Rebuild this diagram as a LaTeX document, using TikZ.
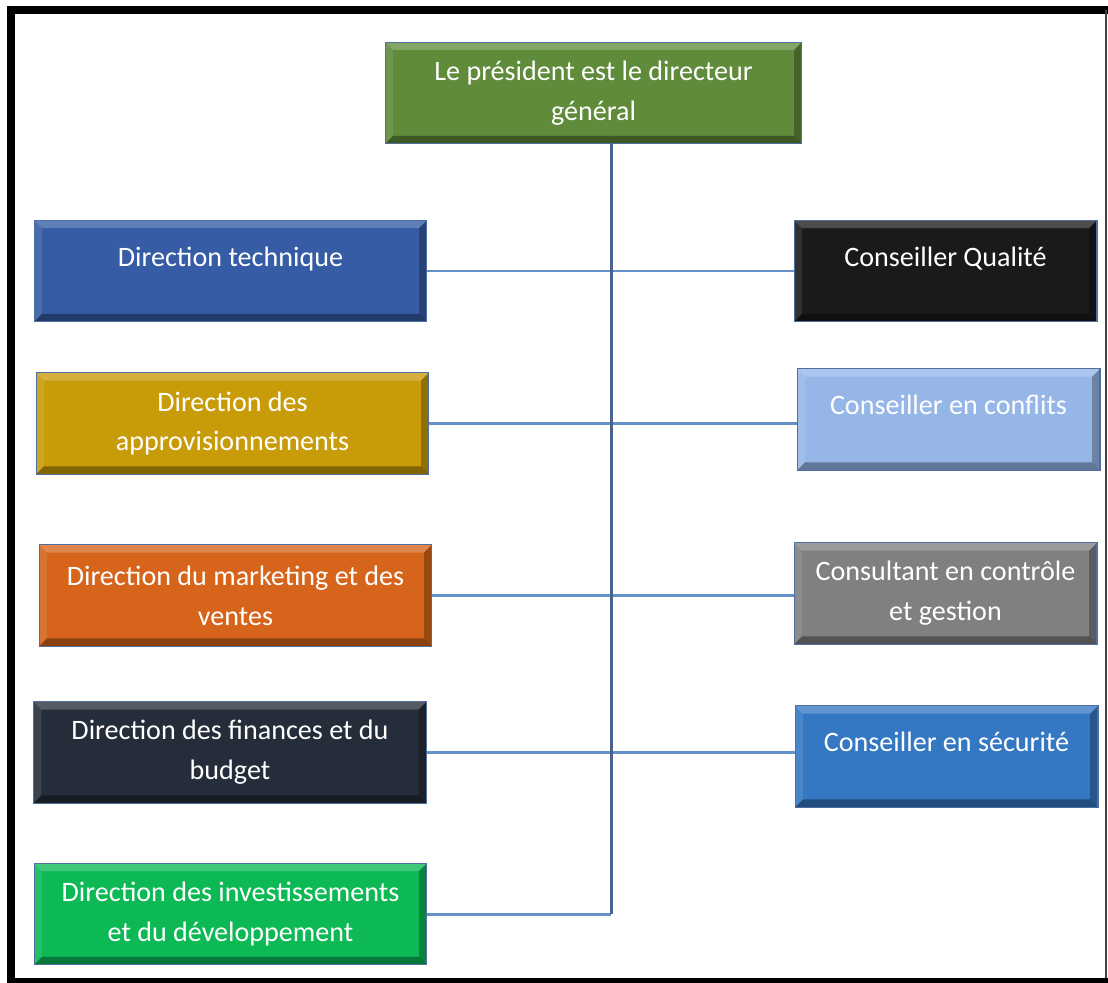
\documentclass[tikz,border=0pt]{standalone}
\usepackage{fontspec}
\setmainfont{Carlito}
\usepackage{tikz}
\usetikzlibrary{calc}
\usetikzlibrary{positioning}

\definecolor{presgreen}{RGB}{95,139,58}
\definecolor{techblue}{RGB}{53,92,164}
\definecolor{approgold}{RGB}{200,155,8}
\definecolor{markorange}{RGB}{214,100,26}
\definecolor{findark}{RGB}{38,45,58}
\definecolor{invgreen}{RGB}{12,185,85}
\definecolor{qualblack}{RGB}{26,26,26}
\definecolor{conflblue}{RGB}{151,182,232}
\definecolor{consgray}{RGB}{128,128,128}
\definecolor{secublue}{RGB}{52,120,195}
\definecolor{boxline}{RGB}{79,111,159}
\definecolor{linkblue}{RGB}{100,145,200}
\definecolor{trunkblue}{RGB}{72,100,140}

\begin{document}
\begin{tikzpicture}[
x=0.02cm,y=-0.02cm,
orgbox/.style={draw=boxline,line width=.6pt,text=white,align=center,
  minimum height=2.03cm,inner sep=2pt,
  font=\fontsize{16}{22.7}\selectfont,
  path picture={
    \fill[white,opacity=.22] (path picture bounding box.north west) -- (path picture bounding box.north east)
      -- ([xshift=-4.5pt,yshift=-4.5pt]path picture bounding box.north east) -- ([xshift=4.5pt,yshift=-4.5pt]path picture bounding box.north west) -- cycle;
    \fill[white,opacity=.10] (path picture bounding box.north west) -- ([xshift=4.5pt,yshift=-4.5pt]path picture bounding box.north west)
      -- ([xshift=4.5pt,yshift=4.5pt]path picture bounding box.south west) -- (path picture bounding box.south west) -- cycle;
    \fill[black,opacity=.35] (path picture bounding box.south west) -- (path picture bounding box.south east)
      -- ([xshift=-4.5pt,yshift=4.5pt]path picture bounding box.south east) -- ([xshift=4.5pt,yshift=4.5pt]path picture bounding box.south west) -- cycle;
    \fill[black,opacity=.28] (path picture bounding box.north east) -- ([xshift=-4.5pt,yshift=-4.5pt]path picture bounding box.north east)
      -- ([xshift=-4.5pt,yshift=4.5pt]path picture bounding box.south east) -- (path picture bounding box.south east) -- cycle;
  }},
leftbox/.style={orgbox,minimum width=7.86cm},
rightbox/.style={orgbox,minimum width=6.06cm},
link/.style={draw=linkblue,line width=1.7pt},
trunk/.style={draw=trunkblue,line width=1.7pt},
]
\useasboundingbox (0,0) rectangle (1108,983);
\fill[white] (0,0) rectangle (1108,983);
\draw[line width=0.16cm] (11,983) -- (11,10.5) -- (1108,10.5);
\fill (7,978) rectangle (1108,983);
\draw[line width=0.05cm,black!75] (1106,10) -- (1106,978);

\node[orgbox,fill=presgreen,minimum width=8.34cm] (pres) at (593.5,93) {Le président est le directeur\\général};

\node[leftbox,fill=techblue] (tech) at (230.5,271) {Direction technique\\[-6pt]\mbox{}};
\node[leftbox,fill=approgold] (appro) at (232.5,423.5) {Direction des\\approvisionnements};
\node[leftbox,fill=markorange] (mark) at (235.5,595.5) {Direction du marketing et des\\ventes};
\node[leftbox,fill=findark] (fin) at (230,752.5) {Direction des finances et du\\budget};
\node[leftbox,fill=invgreen] (inv) at (230.5,914) {Direction des investissements\\et du développement};

\node[rightbox,fill=qualblack] (qual) at (945.5,271) {Conseiller Qualité\\[-6pt]\mbox{}};
\node[rightbox,fill=conflblue] (confl) at (948.5,419.5) {Conseiller en conflits\\[-6pt]\mbox{}};
\node[rightbox,fill=consgray] (cons) at (945.5,593.5) {Consultant en contrôle\\et gestion};
\node[rightbox,fill=secublue] (secu) at (946.5,756.5) {Conseiller en sécurité\\[-6pt]\mbox{}};

\coordinate (top) at (611,143);
\draw[link] (tech.east) -- (tech.east -| qual.west);
\draw[link] (appro.east) -- (appro.east -| confl.west);
\draw[link] (mark.east) -- (mark.east -| cons.west);
\draw[link] (fin.east) -- (fin.east -| secu.west);
\draw[link] (inv.east) -- (inv.east -| top);
\draw[trunk] (top) -- (top |- inv.east);

\end{tikzpicture}
\end{document}
